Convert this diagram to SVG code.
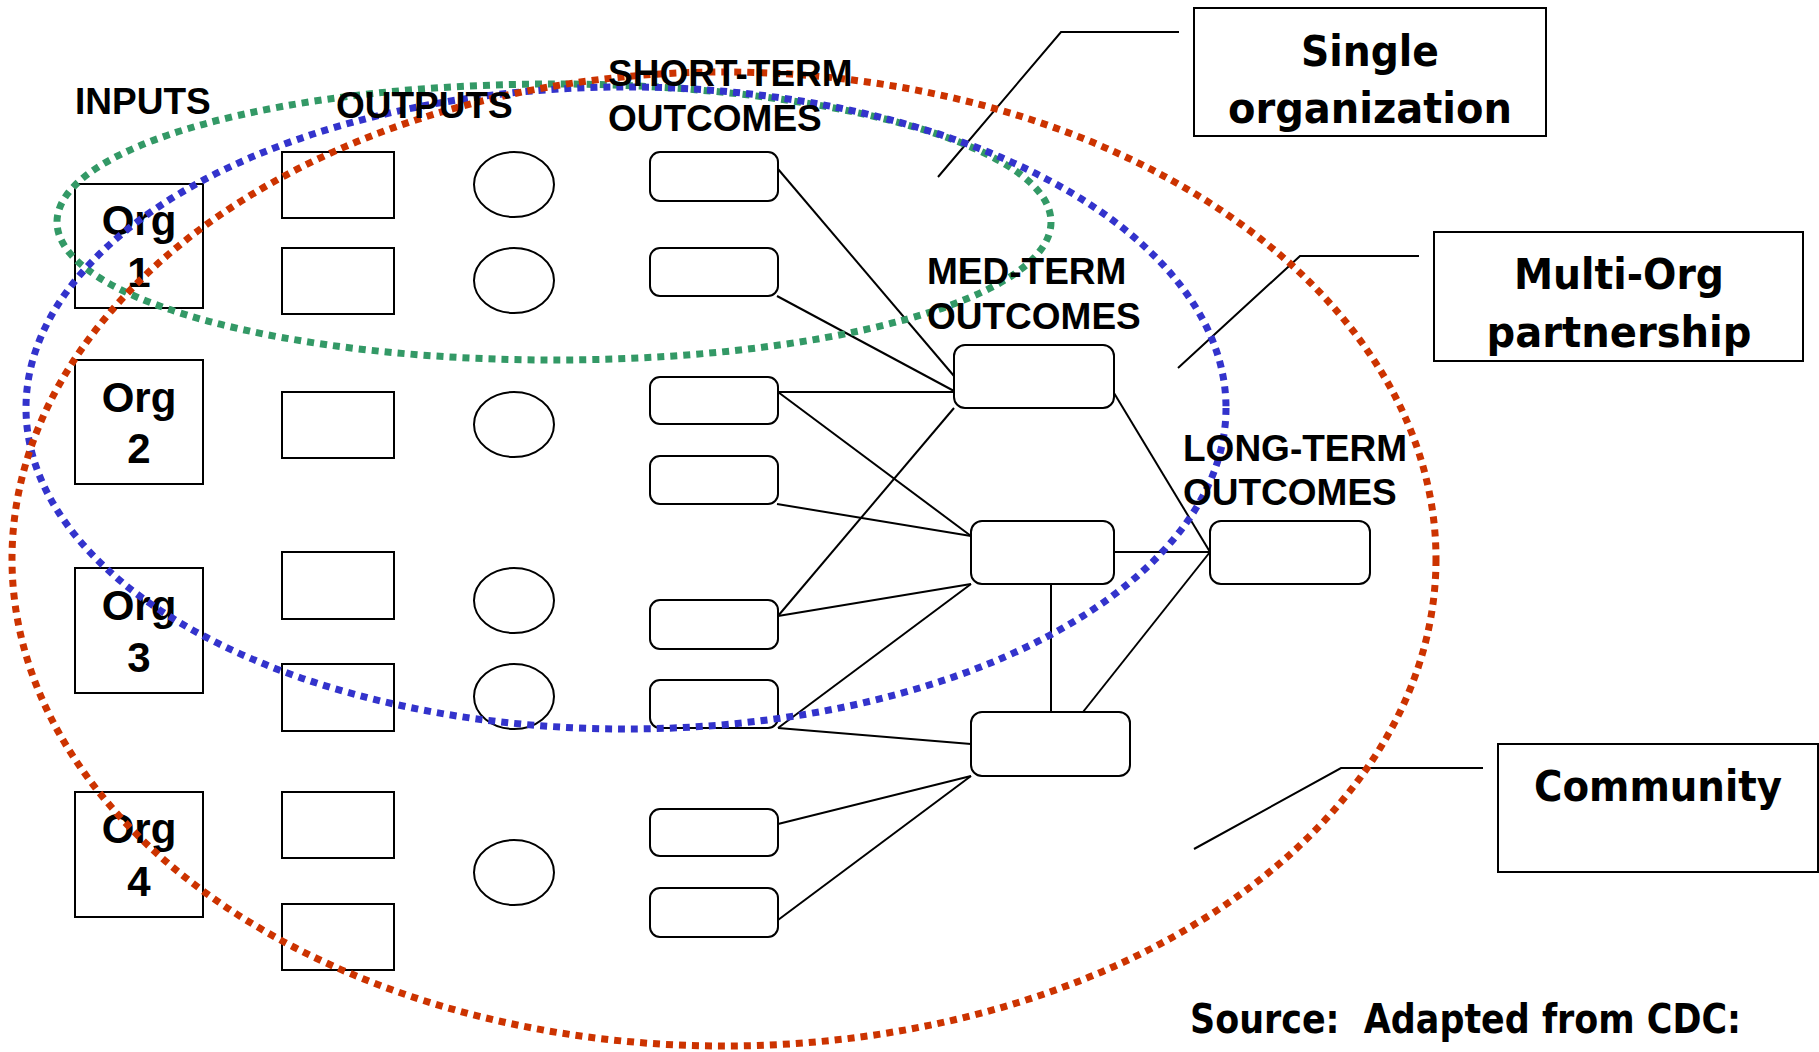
<svg xmlns="http://www.w3.org/2000/svg" width="1819" height="1052" viewBox="0 0 1819 1052">
<style>
.box{fill:#fff;stroke:#000;stroke-width:2}
.rbox{fill:#fff;stroke:#000;stroke-width:2}
.ell{fill:#fff;stroke:#000;stroke-width:2}
.con line,.con polyline{stroke:#000;stroke-width:2;fill:none}
.hdr{font-family:"Liberation Sans",Arial,sans-serif;font-weight:bold;font-size:37px;fill:#000}
.org{font-family:"Liberation Sans",Arial,sans-serif;font-weight:bold;font-size:42px;fill:#000;text-anchor:middle}
.lab{font-family:"DejaVu Sans",sans-serif;font-weight:bold;font-size:42px;fill:#000;text-anchor:middle}
.dot{fill:none;stroke-width:7;stroke-dasharray:7 6}
</style>
<rect width="1819" height="1052" fill="#fff"/>

<g id="org1"><rect class="box" x="75" y="184" width="128" height="124"/><text class="org" x="139" y="235">Org</text><text class="org" x="139" y="287">1</text></g>
<g id="org2"><rect class="box" x="75" y="360" width="128" height="124"/><text class="org" x="139" y="412">Org</text><text class="org" x="139" y="463">2</text></g>
<g id="org3"><rect class="box" x="75" y="568" width="128" height="125"/><text class="org" x="139" y="620">Org</text><text class="org" x="139" y="672">3</text></g>
<g id="org4"><rect class="box" x="75" y="792" width="128" height="125"/><text class="org" x="139" y="843">Org</text><text class="org" x="139" y="896">4</text></g>

<g id="inputs">
<rect id="in1" class="box" x="282" y="152" width="112" height="66"/>
<rect id="in2" class="box" x="282" y="248" width="112" height="66"/>
<rect id="in3" class="box" x="282" y="392" width="112" height="66"/>
<rect id="in4" class="box" x="282" y="552" width="112" height="67"/>
<rect id="in5" class="box" x="282" y="664" width="112" height="67"/>
<rect id="in6" class="box" x="282" y="792" width="112" height="66"/>
<rect id="in7" class="box" x="282" y="904" width="112" height="66"/>
</g>

<g id="outputs">
<ellipse id="out1" class="ell" cx="514" cy="184.5" rx="40" ry="32.5"/>
<ellipse id="out2" class="ell" cx="514" cy="280.5" rx="40" ry="32.5"/>
<ellipse id="out3" class="ell" cx="514" cy="424.5" rx="40" ry="32.5"/>
<ellipse id="out4" class="ell" cx="514" cy="600.5" rx="40" ry="32.5"/>
<ellipse id="out5" class="ell" cx="514" cy="696.5" rx="40" ry="32.5"/>
<ellipse id="out6" class="ell" cx="514" cy="872.5" rx="40" ry="32.5"/>
</g>

<g id="connectors" class="con">
<line x1="778" y1="169" x2="954" y2="376"/>
<line x1="777" y1="296" x2="954" y2="391"/>
<line x1="778" y1="392" x2="954" y2="392"/>
<line x1="778" y1="392" x2="971" y2="536"/>
<line x1="954" y1="408" x2="778" y2="616"/>
<line x1="777" y1="504" x2="971" y2="536"/>
<line x1="778" y1="616" x2="971" y2="584"/>
<line x1="778" y1="728" x2="971" y2="584"/>
<line x1="778" y1="728" x2="971" y2="744"/>
<line x1="778" y1="824" x2="971" y2="776"/>
<line x1="778" y1="920" x2="971" y2="776"/>
<line x1="1114" y1="393" x2="1210" y2="552"/>
<line x1="1114" y1="552" x2="1210" y2="552"/>
<line x1="1051" y1="584" x2="1051" y2="712"/>
<line x1="1083" y1="712" x2="1210" y2="552"/>
<polyline points="1179,32 1061,32 938,177"/>
<polyline points="1419,256 1300,256 1178,368"/>
<polyline points="1483,768 1341,768 1194,849"/>
</g>

<g id="short-term">
<rect id="st1" class="rbox" x="650" y="152" width="128" height="49" rx="10"/>
<rect id="st2" class="rbox" x="650" y="248" width="128" height="48" rx="10"/>
<rect id="st3" class="rbox" x="650" y="377" width="128" height="47" rx="10"/>
<rect id="st4" class="rbox" x="650" y="456" width="128" height="48" rx="10"/>
<rect id="st5" class="rbox" x="650" y="600" width="128" height="49" rx="10"/>
<rect id="st6" class="rbox" x="650" y="680" width="128" height="48" rx="10"/>
<rect id="st7" class="rbox" x="650" y="809" width="128" height="47" rx="10"/>
<rect id="st8" class="rbox" x="650" y="888" width="128" height="49" rx="10"/>
</g>

<g id="med-term">
<rect id="med1" class="rbox" x="954" y="345" width="160" height="63" rx="11"/>
<rect id="med2" class="rbox" x="971" y="521" width="143" height="63" rx="11"/>
<rect id="med3" class="rbox" x="971" y="712" width="159" height="64" rx="11"/>
</g>

<g id="long-term">
<rect id="long1" class="rbox" x="1210" y="521" width="160" height="63" rx="11"/>
</g>

<g id="single-org"><rect class="box" x="1194" y="8" width="352" height="128"/><text class="lab" x="1370" y="66" textLength="138" lengthAdjust="spacingAndGlyphs">Single</text><text class="lab" x="1370" y="123" textLength="284" lengthAdjust="spacingAndGlyphs">organization</text></g>
<g id="multi-org"><rect class="box" x="1434" y="232" width="369" height="129"/><text class="lab" x="1619" y="289" textLength="210" lengthAdjust="spacingAndGlyphs">Multi-Org</text><text class="lab" x="1619" y="347" textLength="265" lengthAdjust="spacingAndGlyphs">partnership</text></g>
<g id="community"><rect class="box" x="1498" y="744" width="320" height="128"/><text class="lab" x="1658" y="801" textLength="248" lengthAdjust="spacingAndGlyphs">Community</text></g>

<g id="groupings">
<ellipse class="dot" cx="554" cy="222" rx="497" ry="138" stroke="#339966"/>
<ellipse class="dot" cx="626" cy="408" rx="600" ry="321" stroke="#3333CC"/>
<ellipse class="dot" cx="724" cy="559" rx="712" ry="487" stroke="#CC3300"/>
</g>

<g id="headers">
<text class="hdr" x="75" y="114">INPUTS</text>
<text class="hdr" x="336" y="118">OUTPUTS</text>
<text class="hdr" x="608" y="86">SHORT-TERM</text>
<text class="hdr" x="608" y="131">OUTCOMES</text>
<text class="hdr" x="927" y="284">MED-TERM</text>
<text class="hdr" x="927" y="329">OUTCOMES</text>
<text class="hdr" x="1183" y="461">LONG-TERM</text>
<text class="hdr" x="1183" y="505">OUTCOMES</text>
</g>

<g id="source"><text class="lab" x="1190" y="1033" style="text-anchor:start;font-size:40px" textLength="551" lengthAdjust="spacingAndGlyphs">Source:&#160; Adapted from CDC:</text></g>
</svg>
